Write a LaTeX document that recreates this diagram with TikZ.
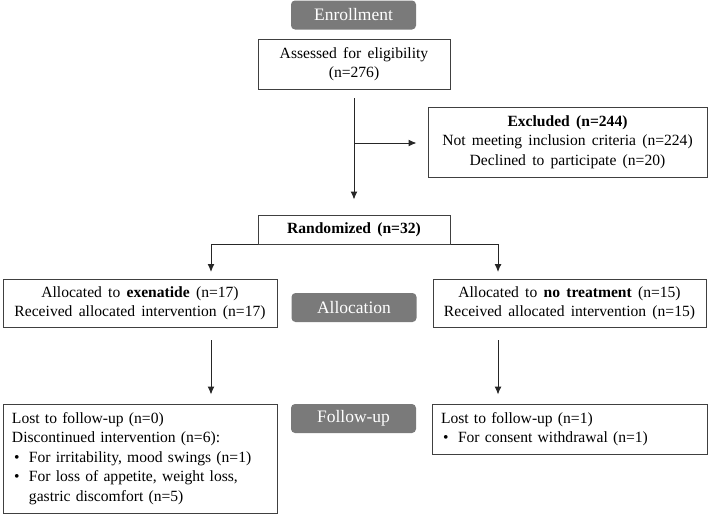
\documentclass[tikz,border=0pt]{standalone}
\usepackage{fontspec}
\setmainfont{Liberation Serif}[WordSpace=1.6]
\usetikzlibrary{arrows.meta,positioning}

\begin{document}
\begin{tikzpicture}[x=1pt,y=-1pt,
  box/.style={draw=black!75, line width=1pt, align=center, inner sep=0pt,
    font=\fontsize{15.6}{19.5}\selectfont},
  leftbox/.style={box, align=left, inner xsep=9pt},
  tag/.style={fill=black!52, text=white, rounded corners=4pt, inner sep=0pt,
    minimum width=125pt, minimum height=29pt, font=\fontsize{17.5}{20}\selectfont},
  arr/.style={-{Latex[length=8pt,width=7pt]}, line width=1pt, draw=black!85}]

\useasboundingbox (0,0) rectangle (708,514);

% stage labels
\node[tag] (enroll) at (353.5,15) {Enrollment};
\node[tag] (alloc) at (354,307.5) {Allocation};
\node[tag] (follow) at (353.5,418.5) {Follow-up};

% boxes
\node[box, minimum width=192pt, minimum height=50pt] (assess) at (354,64)
  {Assessed for eligibility\\(n=276)};
\node[box, minimum width=279pt, minimum height=70pt] (excl) at (567.5,142)
  {\textbf{Excluded (n=244)}\\Not meeting inclusion criteria (n=224)\\Declined to participate (n=20)};
\node[box, minimum width=192pt, minimum height=29pt] (rand) at (354,229.5)
  {\textbf{Randomized (n=32)}};
\node[box, minimum width=274pt, minimum height=48pt] (allocL) at (140,303)
  {Allocated to \textbf{exenatide} (n=17)\\Received allocated intervention (n=17)};
\node[box, minimum width=273pt, minimum height=48pt] (allocR) at (569.5,303)
  {Allocated to \textbf{no treatment} (n=15)\\Received allocated intervention (n=15)};
\node[leftbox, text width=256pt, minimum height=109pt] (followL) at (140,458.5)
  {Lost to follow-up (n=0)\\
   Discontinued intervention (n=6):\\
   \hspace*{2pt}\makebox[15pt][l]{\textbullet}For irritability, mood swings (n=1)\\
   \hspace*{2pt}\makebox[15pt][l]{\textbullet}For loss of appetite, weight loss,\\
   \hspace*{17pt}gastric discomfort (n=5)};
\node[leftbox, text width=257pt, minimum height=50pt] (followR) at (569.5,429)
  {Lost to follow-up (n=1)\\
   \hspace*{2pt}\makebox[15pt][l]{\textbullet}For consent withdrawal (n=1)};

% connectors
\coordinate (top) at (354,98);
\coordinate (mid) at (354,143);
\coordinate (aL) at (211,272);
\coordinate (aR) at (498,272);
\coordinate (dL) at (211,340);
\coordinate (dR) at (498,340);
\draw[arr] (top) -- ([yshift=15pt]rand.north);
\draw[arr] (mid) -- ([xshift=-11pt]excl.west |- mid);
\draw[arr] (rand.south west) -| (aL);
\draw[arr] (rand.south east) -| (aR);
\draw[arr] (dL) -- ([yshift=9pt]followL.north -| dL);
\draw[arr] (dR) -- ([yshift=9pt]followR.north -| dR);

\end{tikzpicture}
\end{document}
